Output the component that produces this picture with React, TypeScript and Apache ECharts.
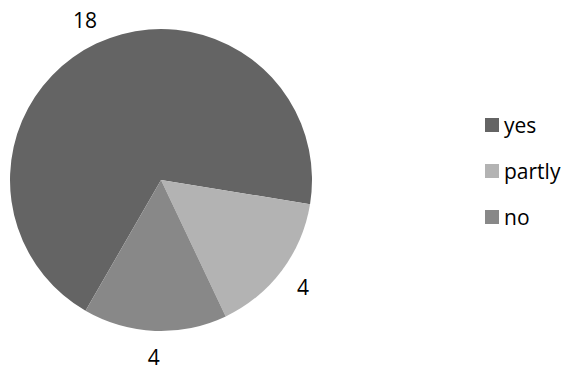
import React, { useEffect, useRef } from "react";
import * as echarts from "echarts";

const categories = ["yes", "partly", "no"];
const values = [18, 4, 4];
const colors = ["#646464", "#b3b3b3", "#888888"];

export default function App() {
  const ref = useRef<HTMLDivElement>(null);
  useEffect(() => {
    if (!ref.current) return;
    const chart = echarts.init(ref.current, undefined, { renderer: "svg" });
    const data = categories.map((name, i) => ({
      name,
      value: values[i],
      itemStyle: { color: colors[i] },
    }));
    chart.setOption({
      animation: false,
      backgroundColor: "#ffffff",
      textStyle: { fontFamily: "Open Sans" },
      legend: {
        orient: "vertical",
        left: 485,
        top: 113,
        padding: 0,
        itemWidth: 14,
        itemHeight: 14,
        itemGap: 22,
        icon: "rect",
        data: categories,
        selectedMode: false,
        textStyle: {
          fontFamily: "Open Sans",
          fontSize: 21,
          lineHeight: 24,
          color: "#000000",
        },
      },
      series: [
        {
          type: "pie",
          center: [161, 180],
          radius: [0, 151],
          startAngle: 240,
          clockwise: true,
          silent: true,
          label: { show: false },
          labelLine: { show: false },
          data,
        },
        {
          type: "pie",
          center: [161, 180],
          radius: [165, 184],
          startAngle: 240,
          clockwise: true,
          silent: true,
          legendHoverLink: false,
          itemStyle: { color: "transparent", opacity: 0 },
          label: {
            show: true,
            position: "inside",
            formatter: "{c}",
            fontFamily: "Open Sans",
            fontSize: 21,
            color: "#000000",
            opacity: 1,
          },
          labelLine: { show: false },
          data: categories.map((name, i) => ({ name: name + " ", value: values[i] })),
        },
      ],
    });
    return () => chart.dispose();
  }, []);
  return (
    <div
      ref={ref}
      style={{ position: "fixed", left: 0, top: 0, width: 574, height: 374 }}
    />
  );
}
